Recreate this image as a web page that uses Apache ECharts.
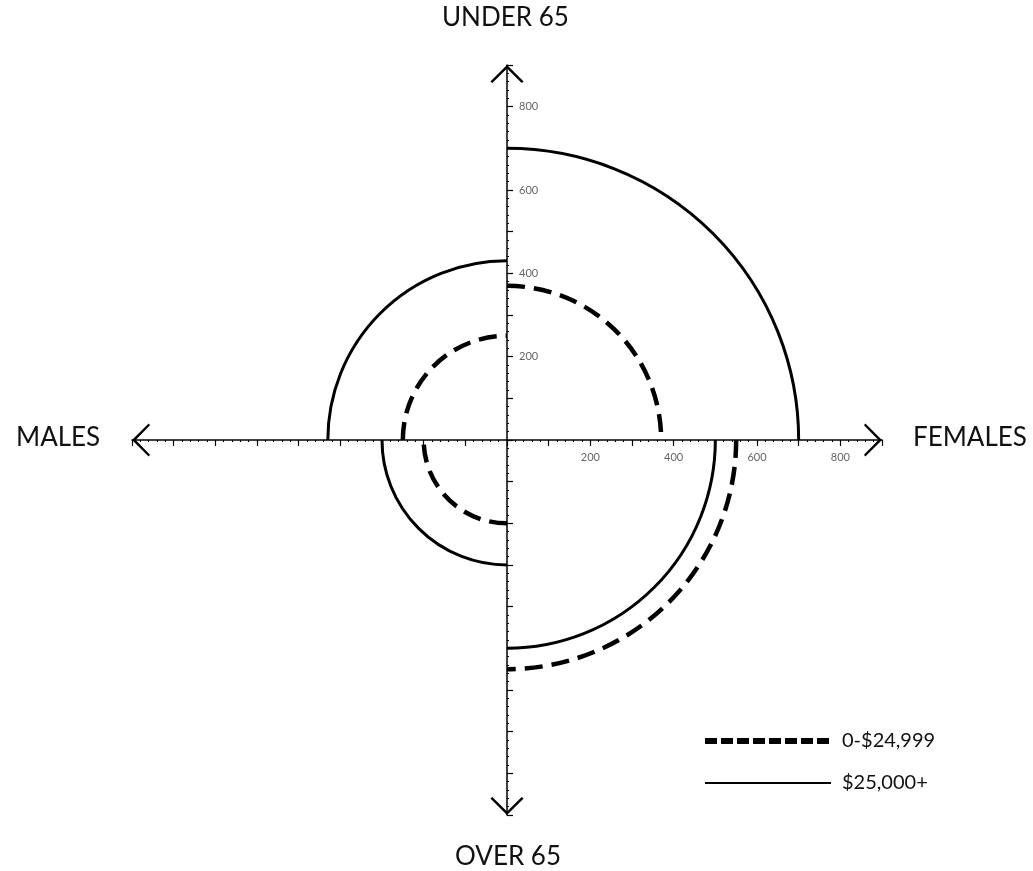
<!DOCTYPE html>
<html>
<head>
<meta charset="utf-8">
<script src="https://cdn.jsdelivr.net/npm/echarts@6/dist/echarts.min.js"></script>
<style>
  html, body { margin: 0; padding: 0; background: #fff; }
  #chart { width: 1033px; height: 871px; }
</style>
</head>
<body>
<div id="chart"></div>
<script>
// quadrants, counter-clockwise from upper right
const quadrants = ['Under 65 Females', 'Under 65 Males', 'Over 65 Males', 'Over 65 Females'];
const lowIncome = [370, 250, 200, 550];   // 0-$24,999 (dashed)
const highIncome = [700, 430, 300, 500];  // $25,000+ (solid)
const seriesNames = ['0-$24,999', '$25,000+'];
const axisLabels = [200, 400, 600, 800];
const axisNames = { up: 'UNDER 65', down: 'OVER 65', left: 'MALES', right: 'FEMALES' };

const chevron = 'path://M0,12 L12,0 L24,12 L22.6,13 L12,2.6 L1.4,13 Z';
const font = 'Lato, "Open Sans", sans-serif';

const chart = echarts.init(document.getElementById('chart'));

// one quarter arc per data item, radius through the axis scale
const arcRenderer = (style) => (params, api) => {
  const c = api.coord([0, 0]);
  const r = api.size([api.value(0), 0])[0];
  const start = -(params.dataIndex + 1) * Math.PI / 2;
  return {
    type: 'arc',
    shape: { cx: c[0], cy: c[1], r: r, startAngle: start, endAngle: start + Math.PI / 2, clockwise: true },
    style: Object.assign({ fill: 'none', stroke: '#000' }, style)
  };
};

const axisCommon = {
  type: 'value',
  min: -900,
  max: 900,
  interval: 100,
  splitLine: { show: false },
  axisLine: {
    onZero: true,
    symbol: [chevron, chevron],
    symbolSize: [36, 18],
    symbolOffset: [9, -9],
    lineStyle: { color: '#000', width: 1.5 }
  },
  axisTick: { length: 6, lineStyle: { color: '#000', width: 1.2 } },
  minorTick: { show: true, splitNumber: 5, length: 2, lineStyle: { color: '#000', width: 1 } },
  axisLabel: { show: false }
};

// label-only axes on the upper right quadrant, so labels sit on the zero lines
const labelAxis = {
  type: 'value',
  gridIndex: 1,
  min: 0,
  max: 900,
  interval: 100,
  splitLine: { show: false },
  axisLine: { show: false },
  axisTick: { show: false },
  axisLabel: {
    fontSize: 11,
    color: '#666',
    fontFamily: font,
    margin: 12,
    formatter: v => axisLabels.includes(v) ? String(v) : ''
  }
};

const lineDash = [18, 9];

chart.setOption({
  animation: false,
  title: [
    { text: axisNames.up, left: 442, top: 5 },
    { text: axisNames.down, left: 455, top: 844 },
    { text: axisNames.left, left: 16, top: 425 },
    { text: axisNames.right, left: 913, top: 425 }
  ].map(t => Object.assign({ padding: 0, textStyle: { fontSize: 26, fontWeight: 'normal', color: '#111', fontFamily: font } }, t)),
  grid: [
    { left: 132, top: 65, width: 750, height: 750 },
    { left: 507, top: 65, width: 375, height: 375 }
  ],
  xAxis: [
    axisCommon,
    Object.assign({}, labelAxis, { position: 'bottom' })
  ],
  yAxis: [
    Object.assign({}, axisCommon, {
      axisTick: Object.assign({}, axisCommon.axisTick, { inside: true })
    }),
    Object.assign({}, labelAxis, {
      position: 'left',
      axisLabel: Object.assign({}, labelAxis.axisLabel, { inside: true })
    })
  ],
  legend: {
    orient: 'vertical',
    left: 697,
    top: 726,
    itemWidth: 126,
    itemHeight: 14,
    itemGap: 22,
    selectedMode: false,
    itemStyle: { opacity: 0 },
    lineStyle: { width: 'inherit' },
    textStyle: { fontSize: 20, color: '#111', fontFamily: font, padding: [0, 0, 0, 6] },
    data: seriesNames
  },
  series: [
    { name: seriesNames[0], type: 'line', data: [], symbol: 'none', symbolSize: 0, itemStyle: { color: '#000' }, lineStyle: { color: '#000', width: 6, type: [12, 4] } },
    { name: seriesNames[1], type: 'line', data: [], symbol: 'none', symbolSize: 0, itemStyle: { color: '#000' }, lineStyle: { color: '#000', width: 2 } },
    {
      name: seriesNames[0],
      type: 'custom',
      renderItem: arcRenderer({ lineWidth: 4.5, lineDash: lineDash }),
      data: lowIncome.map((r, i) => [r, i]),
      encode: { x: 0, y: 1 }
    },
    {
      name: seriesNames[1],
      type: 'custom',
      renderItem: arcRenderer({ lineWidth: 3 }),
      data: highIncome.map((r, i) => [r, i]),
      encode: { x: 0, y: 1 }
    }
  ]
});
</script>
</body>
</html>
